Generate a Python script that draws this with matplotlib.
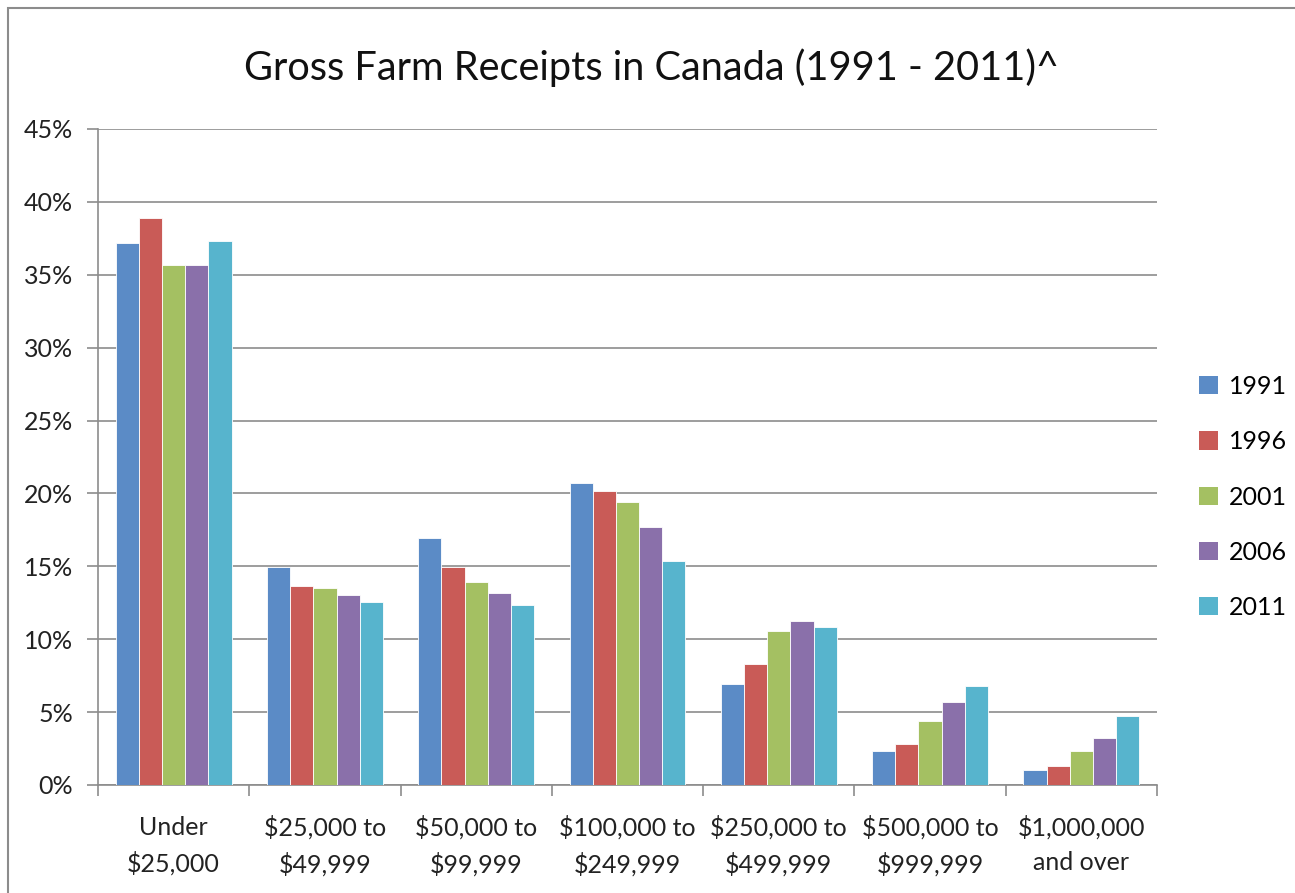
import matplotlib
matplotlib.use("Agg")
import matplotlib.pyplot as plt
import numpy as np
from matplotlib.patches import Rectangle, Patch

categories = ["Under\n$25,000", "$25,000 to\n$49,999", "$50,000 to\n$99,999",
              "$100,000 to\n$249,999", "$250,000 to\n$499,999", "$500,000 to\n$999,999",
              "$1,000,000\nand over"]
years = ["1991", "1996", "2001", "2006", "2011"]
v1991 = [37.2, 14.95, 16.95, 20.7, 6.9, 2.35, 1.05]
v1996 = [38.9, 13.65, 14.95, 20.2, 8.3, 2.8, 1.3]
v2001 = [35.7, 13.5, 13.9, 19.4, 10.55, 4.4, 2.35]
v2006 = [35.7, 13.05, 13.2, 17.7, 11.25, 5.7, 3.2]
v2011 = [37.3, 12.55, 12.35, 15.4, 10.85, 6.8, 4.73]
series = [v1991, v1996, v2001, v2006, v2011]
colors = ["#5b8bc6", "#c95b57", "#a4c062", "#8a70aa", "#57b4cd"]

plt.rcParams['font.family'] = ['Lato', 'DejaVu Sans']
fig = plt.figure(figsize=(12.95, 8.93), dpi=100)
ax = fig.add_axes([98/1295, 1-785/893, (1157-98)/1295, (785-129)/893])

x = np.arange(len(categories))
bw = 0.153
for i, (vals, c, yr) in enumerate(zip(series, colors, years)):
    ax.bar(x + (i - 2) * bw, vals, width=bw, color=c, edgecolor="white", linewidth=0.6, label=yr, zorder=3)

ax.set_xlim(-0.5, len(categories) - 0.5)
ax.set_ylim(0, 45)
ax.set_yticks(np.arange(0, 46, 5))
ax.set_yticklabels([f"{t}%" for t in range(0, 46, 5)], fontsize=18, color="#222222")
ax.yaxis.grid(True, color="#8c8c8c", linewidth=1.2, zorder=0)
ax.set_xticks(np.arange(-0.5, len(categories), 1.0))
ax.set_xticklabels([])
ax.set_xticks(x, minor=True)
ax.set_xticklabels(categories, minor=True, fontsize=18, color="#222222", linespacing=1.6)
ax.tick_params(axis='x', which='minor', length=0, pad=22)
ax.tick_params(axis='x', which='major', length=8, color="#8c8c8c", width=1.2)
ax.tick_params(axis='y', length=8, color="#8c8c8c", width=1.2, pad=10)
for s in ["top", "right"]:
    ax.spines[s].set_visible(False)
for s in ["left", "bottom"]:
    ax.spines[s].set_color("#8c8c8c")
    ax.spines[s].set_linewidth(1.2)

handles = [Patch(facecolor=c, edgecolor="none") for c in colors]
leg = fig.legend(handles, years, loc="center left", bbox_to_anchor=(1199/1295, 1-497/893),
                 frameon=False, fontsize=18, handlelength=0.75, handleheight=0.75,
                 handletextpad=0.45, labelspacing=1.29, borderpad=0, borderaxespad=0)

fig.text(652/1295, 1-68/893, "Gross Farm Receipts in Canada (1991 - 2011)^", ha="center", va="center",
         fontsize=28.6, color="#111111")

fig.patches.append(Rectangle((8/1295, -0.1), 1.2, 1.0 - 8/893 + 0.1, transform=fig.transFigure,
                             fill=False, edgecolor="#8c8c8c", linewidth=1.5))

fig.savefig("out.png", dpi=100)
